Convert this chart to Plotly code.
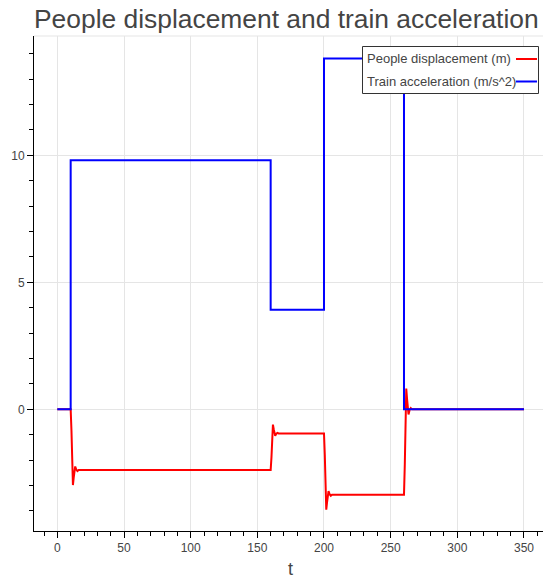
import plotly.graph_objects as go

# Train acceleration (m/s^2): constant level held from each switch time
accel_t = [0, 10, 160, 200, 260, 350]
accel_v = [0, 9.81, 3.92, 13.81, 0, 0]

# People displacement (m): sampled densely around each switch to show the ringing
disp_t = [0, 10, 10.6, 11.2, 11.7, 12.3, 13.0, 13.4, 14.2, 15.1, 16,
          160, 160.6, 161.2, 161.7, 162.3, 163.0, 163.4, 164.2, 165.1, 166,
          200, 200.6, 201.2, 201.7, 202.3, 203.0, 203.4, 204.2, 205.1, 206,
          260, 260.6, 261.2, 261.7, 262.3, 263.0, 263.4, 264.2, 265.1, 266, 350]
disp_v = [0, 0, -0.84, -2.27, -2.98, -2.68, -2.29, -2.25, -2.37, -2.43, -2.39,
          -2.39, -1.89, -1.02, -0.60, -0.78, -1.01, -1.04, -0.96, -0.93, -0.95,
          -0.95, -1.79, -3.24, -3.95, -3.65, -3.26, -3.22, -3.34, -3.40, -3.36,
          -3.36, -2.18, -0.17, 0.82, 0.40, -0.13, -0.20, -0.03, 0.05, 0, 0]

series_names = ["People displacement (m)", "Train acceleration (m/s^2)"]
series_colors = ["#ff0000", "#0000ff"]

x_ticks = [0, 50, 100, 150, 200, 250, 300, 350]
y_ticks = [0, 5, 10]

TITLE = "People displacement and train acceleration"
X_LABEL = "t"

W, H = 543, 581
ML, MR, MT, MB = 34, 0, 36, 50
PW, PH = W - ML - MR, H - MT - MB

FONT = "Liberation Sans, Arial, Helvetica, sans-serif"
TEXT_COLOR = "#444444"
GRID = "#e5e5e5"


def px_x(px):
    """Pixel column -> paper x."""
    return (px - ML) / PW


def px_y(py):
    """Pixel row -> paper y."""
    return (H - MB - py) / PH


fig = go.Figure()
fig.add_trace(go.Scatter(x=disp_t, y=disp_v, mode="lines", name=series_names[0],
                         line=dict(color=series_colors[0], width=2), showlegend=False))
fig.add_trace(go.Scatter(x=accel_t, y=accel_v, mode="lines", name=series_names[1],
                         line=dict(color=series_colors[1], width=2, shape="hv"),
                         showlegend=False))

axis_common = dict(
    showline=True, linecolor="black", linewidth=1,
    ticks="outside", ticklen=6, tickwidth=1, tickcolor="black",
    showgrid=True, gridcolor=GRID, gridwidth=1, zeroline=False,
    tickfont=dict(family=FONT, size=12, color=TEXT_COLOR),
    tickmode="array",
)

fig.update_xaxes(range=[-17.5, -17.5 + PW / 1.3333], tickvals=x_ticks,
                 ticktext=[str(v) for v in x_ticks],
                 minor=dict(tick0=0, dtick=10, ticks="outside", ticklen=4,
                            tickcolor="black", showgrid=False),
                 **axis_common)
fig.update_yaxes(range=[-4.79, 14.70], tickvals=y_ticks,
                 ticktext=[str(v) for v in y_ticks],
                 minor=dict(tick0=0, dtick=1, ticks="outside", ticklen=4,
                            tickcolor="black", showgrid=False),
                 **axis_common)

shapes = [
    # light outline along the top of the frame
    dict(type="line", xref="paper", yref="paper", x0=0, x1=1, y0=1, y1=1,
         line=dict(color=GRID, width=1), layer="below"),
    # legend box
    dict(type="rect", xref="paper", yref="paper",
         x0=px_x(362.5), x1=px_x(538.5), y0=px_y(93.5), y1=px_y(46.5),
         line=dict(color="#333333", width=1), fillcolor="white", layer="above"),
]
annotations = [
    dict(text=X_LABEL, xref="x", yref="paper", x=175, y=px_y(569),
         xanchor="center", yanchor="middle", showarrow=False,
         font=dict(family=FONT, size=18, color=TEXT_COLOR)),
]
legend_rows = [59, 81.5]
for name, color, row in zip(series_names, series_colors, legend_rows):
    annotations.append(dict(text=name, xref="paper", yref="paper",
                            x=px_x(365), y=px_y(row), xanchor="left", yanchor="middle",
                            showarrow=False,
                            font=dict(family=FONT, size=13, color=TEXT_COLOR)))
    shapes.append(dict(type="line", xref="paper", yref="paper",
                       x0=px_x(516), x1=px_x(537), y0=px_y(row), y1=px_y(row),
                       line=dict(color=color, width=2), layer="above"))

fig.update_layout(
    width=W, height=H,
    margin=dict(l=ML, r=MR, t=MT, b=MB, pad=0),
    paper_bgcolor="white", plot_bgcolor="white",
    title=dict(text=TITLE, x=0, xref="paper", xanchor="left",
               y=1 - 19 / H, yref="container", yanchor="middle",
               font=dict(family=FONT, size=26.4, color=TEXT_COLOR)),
    shapes=shapes, annotations=annotations,
    showlegend=False,
)

fig.write_html("out.html", config={"displayModeBar": False})
